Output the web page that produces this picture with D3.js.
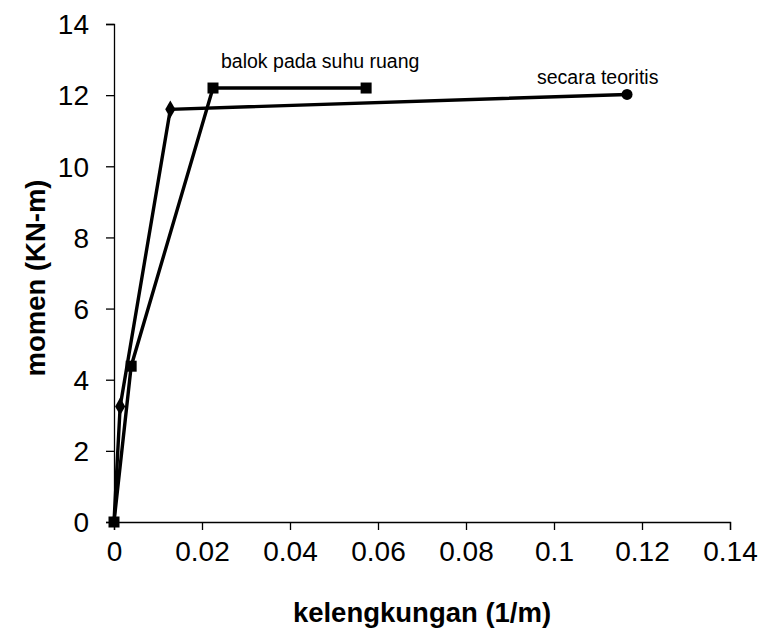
<!DOCTYPE html>
<html><head><meta charset="utf-8">
<script src="https://cdn.jsdelivr.net/npm/d3@7"></script>
<style>body{margin:0;background:#fff}svg{display:block}text{font-family:"Liberation Sans",Arial,sans-serif}</style>
</head><body>
<svg id="c" width="763" height="630"></svg>
<script>
const teoritisX = [0, 0.0014, 0.0128, 0.1166];
const teoritisY = [0, 3.25, 11.6, 12.02];
const balokX = [0, 0.0039, 0.0225, 0.0573];
const balokY = [0, 4.38, 12.2, 12.2];
const xTicks = [0, 0.02, 0.04, 0.06, 0.08, 0.1, 0.12, 0.14];
const yTicks = [0, 2, 4, 6, 8, 10, 12, 14];
const seriesLabels = ["secara teoritis", "balok pada suhu ruang"];

const svg = d3.select("#c");
const x = d3.scaleLinear().domain([0, 0.14]).range([114, 730]);
const y = d3.scaleLinear().domain([0, 14]).range([522, 24]);

const xAxis = svg.append("g").attr("transform", `translate(0,${y(0)})`)
  .call(d3.axisBottom(x).tickValues(xTicks).tickSize(8).tickPadding(14).tickFormat(d => d3.format("")(+d.toFixed(2))));
const yAxis = svg.append("g").attr("transform", `translate(${x(0)},0)`)
  .call(d3.axisLeft(y).tickValues(yTicks).tickSize(8).tickPadding(17));
[xAxis, yAxis].forEach(a => {
  a.select(".domain").attr("stroke", "#000").attr("stroke-width", 1.3);
  a.selectAll(".tick line").attr("stroke", "#000").attr("stroke-width", 1.3);
  a.selectAll(".tick text").attr("fill", "#000").attr("font-size", 28).style("font-family", '"Liberation Sans",Arial,sans-serif');
});
yAxis.selectAll(".tick text").attr("dy", "0.35em");
xAxis.selectAll(".tick text").attr("dy", "0.62em");

const line = d3.line().x(d => x(d[0])).y(d => y(d[1]));
const s1 = teoritisX.map((v, i) => [v, teoritisY[i]]);
const s2 = balokX.map((v, i) => [v, balokY[i]]);

svg.append("path").datum(s1).attr("d", line).attr("fill", "none").attr("stroke", "#000").attr("stroke-width", 3.4);
svg.append("path").datum(s2).attr("d", line).attr("fill", "none").attr("stroke", "#000").attr("stroke-width", 3.4);

s1.forEach((d, i) => {
  if (i === 0) return;
  if (i === s1.length - 1) {
    svg.append("circle").attr("cx", x(d[0])).attr("cy", y(d[1])).attr("r", 5.5).attr("fill", "#000");
  } else {
    svg.append("path").attr("d", d3.symbol(d3.symbolDiamond, 90)())
      .attr("transform", `translate(${x(d[0])},${y(d[1])})`).attr("fill", "#000");
  }
});
s2.forEach(d => {
  svg.append("rect").attr("x", x(d[0]) - 5.5).attr("y", y(d[1]) - 5.5).attr("width", 11).attr("height", 11).attr("fill", "#000");
});

svg.append("text").attr("x", 537).attr("y", 84).attr("font-size", 19.5).attr("fill", "#000").text(seriesLabels[0]);
svg.append("text").attr("x", 221).attr("y", 68).attr("font-size", 19.5).attr("fill", "#000").text(seriesLabels[1]);

svg.append("text").attr("x", 422).attr("y", 622).attr("text-anchor", "middle").attr("font-size", 27.5).attr("font-weight", "bold").text("kelengkungan (1/m)");
svg.append("text").attr("transform", "translate(45,278) rotate(-90)").attr("text-anchor", "middle").attr("font-size", 27.5).attr("font-weight", "bold").text("momen (KN-m)");
</script>
</body></html>
